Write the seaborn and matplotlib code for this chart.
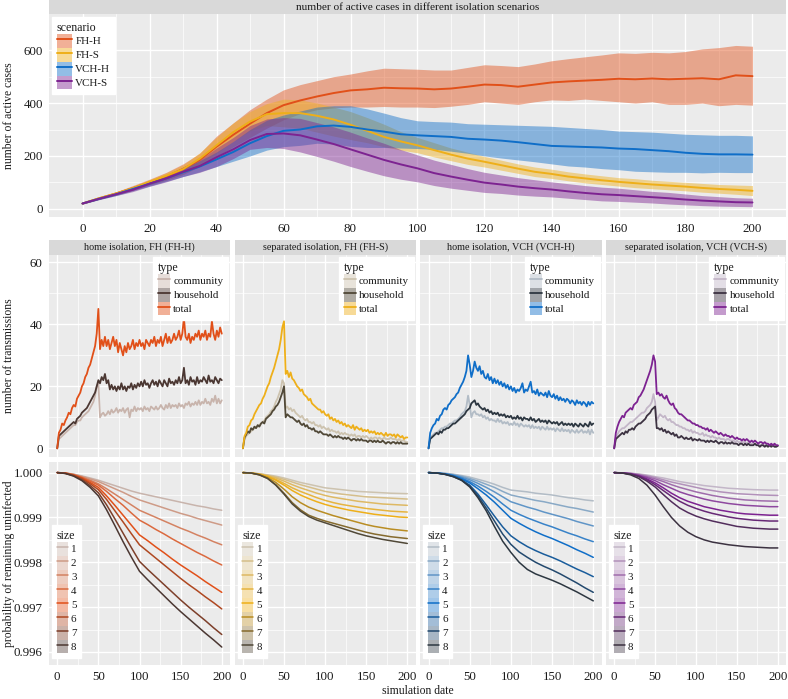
import matplotlib
matplotlib.use("Agg")
import numpy as np
import pandas as pd
import matplotlib.pyplot as plt
import seaborn as sns
from matplotlib.patches import Patch, Rectangle
from matplotlib.lines import Line2D
from matplotlib.ticker import FixedLocator
from matplotlib.colors import to_rgb, to_hex

# ---------------- data ----------------
scenarios = ["FH-H", "FH-S", "VCH-H", "VCH-S"]
panel_titles = ["home isolation, FH (FH-H)", "separated isolation, FH (FH-S)",
                "home isolation, VCH (VCH-H)", "separated isolation, VCH (VCH-S)"]
types = ["community", "household", "total"]
sizes = [1, 2, 3, 4, 5, 6, 7, 8]

days5 = list(range(0, 201, 5))
days2 = list(range(0, 201, 2))
days10 = list(range(0, 201, 10))

# active cases (mean, lower, upper), every 5 days
fhh_mean = [20,40,58,78,100,122,150,185,235,280,322,362,392,410,425,438,448,452,458,456,455,452,455,462,470,468,462,470,478,482,485,488,492,490,493,490,492,494,490,505,502]
fhh_lo = [18,36,52,70,90,108,130,160,197,235,270,305,337,360,375,382,385,385,387,385,385,383,388,395,405,400,395,405,412,410,415,410,405,400,405,395,395,400,390,395,392]
fhh_hi = [22,44,64,88,112,138,170,210,275,325,375,415,450,470,485,500,510,522,532,530,528,525,525,535,545,542,538,548,560,568,575,582,590,588,592,590,595,605,610,618,615]
fhs_mean = [20,40,58,78,102,125,150,190,240,290,330,358,362,362,352,338,318,295,272,255,240,222,205,190,178,165,152,140,132,122,115,108,102,97,92,88,84,79,75,72,68]
fhs_lo = [18,37,54,72,94,114,136,170,210,255,295,315,310,305,290,275,262,250,235,222,212,196,182,168,158,146,134,122,115,106,98,92,86,80,76,72,68,63,59,55,50]
fhs_hi = [22,43,62,84,110,136,166,212,270,325,368,398,415,412,400,385,368,345,320,292,270,250,230,214,198,184,170,158,150,140,132,125,118,114,108,104,100,96,92,90,88]
vchh_mean = [20,38,55,75,95,115,138,160,187,215,248,275,295,300,312,315,310,300,292,282,278,275,272,265,262,258,252,245,238,236,234,232,228,226,222,218,212,208,206,206,205]
vchh_lo = [18,35,50,68,86,104,122,140,160,180,200,222,235,240,248,245,236,232,232,230,228,225,218,210,200,192,185,178,170,162,158,152,148,142,140,138,138,136,138,137,137]
vchh_hi = [22,41,60,82,104,128,154,182,215,255,300,335,355,370,385,390,390,378,362,345,333,330,328,322,320,318,316,314,312,308,304,300,294,292,290,286,282,280,278,278,276]
vchs_mean = [20,38,55,72,95,115,140,162,195,225,260,283,285,278,262,245,225,205,185,168,153,135,122,110,99,92,84,78,73,66,60,55,52,48,44,40,35,31,28,25,24]
vchs_lo = [18,35,50,65,85,102,122,138,160,190,225,232,228,215,198,180,160,142,125,112,102,88,78,70,62,58,52,48,45,40,35,30,28,25,22,18,15,12,10,9,8]
vchs_hi = [22,41,60,80,105,128,158,186,230,270,315,340,345,342,326,310,290,268,248,224,204,184,168,152,138,128,118,110,102,95,88,82,78,72,66,62,56,50,46,42,40]

# transmissions per day, every 2 days
fhh_total = [0,5,6,8,7.5,9,10,11.5,11,13, 14,13.5,16,17,18,20,21,23,24,26, 27,29,31,33,37,45,32,35,33,36,
             33,35,32,34,36,33,35,31,34,32, 30,33,31,34,32,33,35,32,34,33, 35,33,34,32,35,34,33,35,34,36,
             33,35,34,36,33,35,37,34,36,34, 35,37,35,36,38,35,37,42,36,35, 37,34,36,35,37,36,38,35,37,36,
             38,35,37,36,41,37,35,38,36,39, 37]
fhh_household = [0,4,4.5,5,5.5,6,6.5,7,7.5,8, 8.5,8,9.5,10,10.5,11.5,12,12.5,13,14, 15,16,17,18,20,22,21,23,22,24,
                 21,22,19,20.5,19,20,18.5,20,19,21, 19,20,18.5,20,19.5,21,19,20.5,19.5,21, 20,21.5,20,22,20.5,21,19.5,21,22,20.5,
                 21.5,20,22,21,20,22,21,20,22.5,21, 21.5,20.5,22,21,23,21,22,26,21,22, 20.5,23,21.5,22,20.5,23,21,22,21.5,23,
                 22,21,23.5,21.5,22,21,23,22,21,22.5, 22]
fhh_community = [0,3,3.5,4,4.5,5,5.5,6,6.5,7, 7.5,7.5,8.5,9,9,10,10.5,11,11.5,12, 13,14,15,17,20,21,10,11,11.5,10.5,
                 11,12,11,12.5,11.5,12,13,11.5,12.5,12, 13,11.5,12.5,13,10,12.5,12,13.5,12,13, 12.5,13,12,13.5,12.5,13,12,13.5,13,12.5,
                 13.5,12.5,13,14,13,12.5,14,13,14.5,13, 14,13.5,14,13,14.5,13.5,14,13,14.5,14, 15,13.5,14.5,14,15,14,15.5,14,15,14.5,
                 16,14.5,15,14,16,15,17,14.5,16,14.5, 15.5]
fhs_total = [0,4,5,7,7.5,9,9.5,11,12,13, 14,14.5,16,17,18.5,20,21,23,24.5,26, 28,30,32,35,39,41,24,25,23,24.5,
             22.5,22,21,20,19.5,18.5,19,17.5,17,16.5, 15.5,16,14.5,14,13.5,13,12.5,12.5,11.5,12, 11,10.5,11,9.5,10,9,9.5,8.5,9,8,
             8.5,7.5,8,7,7.5,7,6.5,7.5,6,7, 6.5,6,6.5,5.5,6,5.5,6,5,5.5,5, 5.5,4.5,5,4.5,5,4.5,4,5,4,4.5,
             4.5,4,4.5,3.5,4.5,4,3.5,4,3,3.5, 3.5]
fhs_household = [0,3.5,4.5,5.5,5,6.5,6,7,6.5,7.5, 7,8,8.5,8,9.5,10,10.5,11,12,12.5, 13.5,14,15,16.5,18,20,10,11,10.5,10,
                 10,9.5,9,8.5,9,8,7.5,8,7,7.5, 6.5,6.5,6,6.5,5.5,5.5,5,5.5,5,4.5, 4.5,4.5,4,4.5,4,3.5,4,3.5,4,3.5,
                 3.5,3,3.5,3,3.5,3,2.5,3,3,2.5, 3,2.5,3,2.5,2.5,2.5,2,2.5,2.5,2, 2.5,2,2.5,2,2,2.5,2,1.5,2,2,
                 1.5,2,2,1.5,2,1.5,2,1.5,1.5,1.5, 1.5]
fhs_community = [0,3,4,4.5,5,5.5,6,6.5,7,7, 7.5,8,8.5,9,10,10.5,11,12,12.5,13.5, 15,16,17.5,19,22,21,13,13.5,12.5,13,
                 12,12.5,11.5,11,10.5,10,10.5,9.5,9,9.5, 8.5,8.5,8,8.5,7.5,7.5,7,7.5,6.5,7, 6.5,6,6.5,5.5,6,5.5,5.5,5,5.5,4.5,
                 5,4.5,5,4.5,4.5,4,4.5,4,4.5,3.5, 4,4,3.5,4,3.5,4,3.5,3,3.5,3, 3.5,3.5,3,3.5,3,3,3.5,3,3,3,
                 3.5,3,3,3,2.5,3,2.5,2.5,2.5,2, 2]
vchh_total = [0,5,6.5,7.5,8,9.5,9,10.5,11,12.5, 13,12.5,14,14.5,15.5,16,16.5,17.5,18,19.5, 20.5,21.5,23,25,30,27,23,25,28,26,
              25,26.5,24,25,23,22.5,24,22,23,21, 22.5,21,22,20.5,21.5,20,21,19.5,20.5,19, 20,18.5,19.5,18,19,18.5,19.5,21,18,19,
              18.5,20,21.5,18,18.5,17.5,19,17,18,17.5, 17,18,16.5,18.5,17,16.5,17.5,16,17,15.5, 16.5,15.5,16,15,16,15.5,14.5,15.5,15,14,
              15.5,14.5,15,14,15,14.5,13.5,15,14,15, 14.5]
vchh_household = [0,3,3.5,4,4.5,5,4.5,5.5,5,6, 6,6.5,6.5,7,7.5,8,8,8.5,9,9.5, 10,10.5,11,12,12.5,13,14.5,15,15.5,14,
                  14.5,13.5,13,12.5,13,12,12.5,11.5,12,11, 11.5,11,11.5,10.5,11,10.5,11,10,10.5,10, 10.5,9.5,10,9.5,10.5,9.5,10,9,10,9.5,
                  9.5,9,10,9,9.5,8.5,9,9.5,8.5,9, 8.5,9,8,9,8.5,8,8.5,8,8.5,7.5, 8,8.5,7.5,8,7.5,8,7.5,8,7,8,
                  7.5,7,8,7.5,7,8,7.5,7,8.5,7.5, 8]
vchh_community = [0,3.5,4,4.5,5,5,5.5,6,6.5,6.5, 7,7,7.5,8,8,8.5,9,9,9.5,10, 11,11.5,12,13.5,17,14,10,11.5,12,11,
                  11,10.5,11,10,10.5,9.5,10,9,9.5,9, 9,8.5,9.5,8.5,9,8,8.5,8,8.5,7.5, 8,7.5,8.5,7.5,8,7,8,7.5,7,7.5,
                  7,7.5,6.5,7.5,6.5,7,6.5,7,6,7, 6.5,6,7,6,6.5,6,6.5,5.5,6.5,6, 5.5,6.5,5.5,6,5.5,6,5,6,5.5,5,
                  6,5,5.5,6,5,5.5,5,6,4.5,6, 5]
vchs_total = [0,5,7,8.5,9.5,10.5,10,11.5,12,12.5, 13,12.5,14,14.5,15,16.5,17,18,19,20.5, 22,23.5,25,27,30,28,17.5,18,17,17.5,
              16.5,16,17,15.5,14.5,14,14.5,13,12.5,11.5, 11,11,10.5,10,9.5,9,9,8.5,8,8, 7.5,7.5,7,7,6.5,6.5,6,6.5,5.5,6,
              5.5,5,5.5,5,4.5,5,4.5,4,4.5,4, 4,3.5,4,3.5,3,3.5,3,3,2.5,3, 2.5,3,2.5,2,2.5,2,2.5,2,1.5,2,
              2,1.5,2,1.5,1.5,1,1.5,1,1.5,1, 1]
vchs_household = [0,3,3.5,4,4.5,5,4.5,5.5,5,6, 6,6.5,6,7,7.5,8,8,8.5,9,9.5, 10.5,11,11.5,12.5,13,13.5,6.5,6.5,6,6.5,
                  5.5,6,5,5.5,5,4.5,5,4,4.5,3.5, 3.5,4,3.5,3,3.5,3,3,3.5,2.5,3, 2.8,2.5,3,2.5,2.5,2.5,2,2.5,2,2.5,
                  2.2,2,2.5,2,1.5,2,2,1.5,2,1.5, 1.8,1.5,2,1.5,1.5,1.5,1,1.5,1.5,1, 1.5,1,1.5,1,1,1,1.5,1,1,0.5,
                  1,1,0.5,1,0.5,1,0.5,1,0.5,0.5, 0.8]
vchs_community = [0,3.5,4.5,5.5,6,6.5,6.5,7,7.5,8, 8.5,8.5,9,9.5,10,10.5,11,11.5,11.5,12, 13,13.5,14,15,17.5,15,9,10,11,10.5,
                  10,10.5,9.5,9,9.5,8.5,8.5,8,7.5,7.5, 7,7,6.5,6.5,6,6,5.5,6,5,5.5, 5,5,4.5,4.5,5,4,4.5,4,4,3.5,
                  4,3.5,3.5,3,3.5,3,3,3,2.5,3, 3,2.5,2.5,2.5,2,2.5,2,2,2,2, 2,1.5,2,1.5,1.5,1.5,1.5,1,1.5,1,
                  1,1,1,1,1,0.8,1,0.8,0.8,0.8, 0.8]

# probability of remaining uninfected, stored as deficit (1 - p) in units of 1e-4, every 10 days, sizes 1..8
fhh_deficit_e4 = [
    [0,0.1,0.35,0.75,1.2,1.7,2.3,2.9,3.5,4.1,4.6,5.0,5.4,5.8,6.2,6.6,7.0,7.4,7.7,8.1,8.4],
    [0,0.1,0.4,0.85,1.4,2.0,2.8,3.6,4.4,5.3,6.1,6.7,7.3,7.9,8.5,9.1,9.6,10.2,10.7,11.2,11.7],
    [0,0.1,0.45,1.0,1.7,2.5,3.6,4.8,6.0,7.2,8.4,9.2,10.0,10.8,11.6,12.4,13.1,13.9,14.6,15.4,16.1],
    [0,0.1,0.5,1.1,1.9,2.8,4.2,5.8,7.3,9.0,10.6,11.6,12.7,13.7,14.8,15.8,16.8,17.8,18.7,19.7,20.6],
    [0,0.15,0.55,1.2,2.2,3.3,5.2,7.3,9.5,11.7,13.9,15.2,16.6,17.9,19.3,20.6,21.8,23.0,24.3,25.5,26.7],
    [0,0.15,0.6,1.35,2.5,3.8,6.0,8.5,11.0,13.6,16.1,17.6,19.1,20.6,22.1,23.6,25.0,26.3,27.7,29.0,30.4],
    [0,0.2,0.7,1.6,2.9,4.5,7.2,10.3,13.5,16.7,19.8,21.6,23.3,25.0,26.7,28.4,30.0,31.5,33.0,34.6,36.1],
    [0,0.2,0.8,1.8,3.3,5.2,8.3,11.8,15.4,18.8,22.0,23.9,25.7,27.5,29.3,31.0,32.6,34.2,35.8,37.3,38.9]]
fhs_deficit_e4 = [
    [0,0.1,0.25,0.5,0.8,1.2,1.7,2.2,2.6,3.0,3.4,3.6,3.8,4.0,4.2,4.3,4.4,4.5,4.6,4.65,4.7],
    [0,0.1,0.3,0.6,1.0,1.5,2.1,2.7,3.2,3.7,4.2,4.5,4.8,5.0,5.2,5.4,5.5,5.6,5.7,5.8,5.9],
    [0,0.1,0.3,0.7,1.2,1.9,2.7,3.4,4.0,4.6,5.1,5.5,5.8,6.1,6.4,6.6,6.8,7.0,7.1,7.2,7.3],
    [0,0.1,0.35,0.8,1.5,2.4,3.4,4.2,4.9,5.6,6.2,6.7,7.1,7.4,7.7,8.0,8.2,8.4,8.6,8.7,8.8],
    [0,0.1,0.4,0.9,1.7,2.8,4.0,5.0,5.8,6.5,7.1,7.6,8.0,8.4,8.7,9.0,9.3,9.5,9.7,9.9,10.0],
    [0,0.1,0.45,1.1,2.2,3.7,5.4,6.7,7.7,8.4,9.0,9.6,10.1,10.6,11.1,11.6,12.0,12.3,12.6,12.8,13.0],
    [0,0.1,0.5,1.3,2.7,4.6,6.7,8.3,9.5,10.2,10.8,11.3,11.8,12.3,12.8,13.3,13.7,14.0,14.3,14.5,14.7],
    [0,0.1,0.5,1.3,2.8,4.8,7.0,8.6,9.8,10.6,11.2,11.8,12.4,13.0,13.6,14.1,14.5,14.9,15.2,15.5,15.8]]
vchh_deficit_e4 = [
    [0,0.05,0.15,0.35,0.65,1.0,1.5,2.0,2.6,3.3,3.9,4.1,4.3,4.6,4.8,5.0,5.3,5.6,5.8,6.1,6.3],
    [0,0.1,0.2,0.45,0.8,1.3,1.9,2.6,3.3,4.2,5.0,5.4,5.8,6.2,6.5,6.9,7.3,7.7,8.0,8.4,8.8],
    [0,0.1,0.25,0.55,1.0,1.6,2.4,3.3,4.3,5.4,6.5,7.1,7.7,8.2,8.8,9.3,9.8,10.3,10.9,11.4,11.9],
    [0,0.1,0.3,0.65,1.2,2.0,3.0,4.2,5.5,7.0,8.4,9.3,10.1,10.8,11.5,12.1,12.8,13.5,14.1,14.8,15.4],
    [0,0.1,0.3,0.7,1.4,2.3,3.6,5.0,6.6,8.4,10.2,11.3,12.3,13.2,14.0,14.7,15.5,16.3,17.2,18.0,18.9],
    [0,0.1,0.35,0.8,1.6,2.8,4.8,7.2,9.7,12.1,14.1,15.4,16.5,17.4,18.2,18.9,19.7,20.6,21.5,22.3,23.2],
    [0,0.1,0.4,0.9,1.7,3.0,5.2,7.9,10.8,13.7,16.0,17.7,18.9,20.0,20.9,21.7,22.6,23.6,24.6,25.7,26.7],
    [0,0.1,0.4,0.9,1.7,3.2,5.6,8.5,12.0,15.3,17.8,20.0,21.6,22.6,23.3,24.0,24.8,25.7,26.6,27.6,28.6]]
vchs_deficit_e4 = [
    [0,0.05,0.15,0.3,0.55,0.9,1.2,1.6,2.0,2.3,2.6,2.9,3.1,3.3,3.5,3.6,3.7,3.8,3.85,3.9,3.9],
    [0,0.05,0.15,0.4,0.7,1.1,1.6,2.1,2.5,2.9,3.3,3.7,4.0,4.3,4.5,4.7,4.8,4.9,5.0,5.05,5.1],
    [0,0.1,0.2,0.5,0.9,1.4,2.0,2.7,3.3,3.8,4.3,4.7,5.1,5.4,5.7,5.9,6.1,6.2,6.3,6.35,6.4],
    [0,0.1,0.25,0.6,1.1,1.8,2.7,3.5,4.3,4.9,5.4,5.9,6.3,6.6,6.9,7.1,7.3,7.4,7.5,7.6,7.6],
    [0,0.1,0.3,0.7,1.4,2.3,3.4,4.6,5.6,6.4,7.0,7.6,8.0,8.4,8.7,9.0,9.2,9.3,9.4,9.5,9.5],
    [0,0.1,0.3,0.8,1.6,2.7,4.0,5.3,6.4,7.3,8.0,8.6,9.1,9.5,9.9,10.2,10.4,10.6,10.7,10.8,10.8],
    [0,0.1,0.35,0.9,1.9,3.2,4.9,6.5,7.9,8.9,9.7,10.3,10.8,11.2,11.6,12.0,12.2,12.4,12.5,12.6,12.6],
    [0,0.1,0.5,1.3,2.8,5.0,7.6,10.0,11.9,13.3,14.3,15.0,15.5,15.8,16.1,16.3,16.5,16.6,16.7,16.8,16.8]]

# ---------------- style ----------------
base_col = {"FH-H": "#E15019", "FH-S": "#EEAF19", "VCH-H": "#0F6EC8", "VCH-S": "#7D2391"}
comm_col = {"FH-H": "#C8B4AC", "FH-S": "#CDC3AF", "VCH-H": "#B2BCC6", "VCH-S": "#C3B6C8"}
hh_col = {"FH-H": "#4B3732", "FH-S": "#504837", "VCH-H": "#2D3741", "VCH-S": "#3C3241"}

def size_palette(sc):
    light, base, dark = [np.array(to_rgb(c)) for c in (comm_col[sc], base_col[sc], hh_col[sc])]
    cols = {}
    for s in sizes:
        if s <= 5:
            f = (s - 1) / 4.0
            c = light * (1 - f) + base * f
        else:
            f = (s - 5) / 3.0
            c = base * (1 - f) + dark * f
        cols[s] = to_hex(c)
    return cols

sns.set_theme(style="darkgrid", rc={
    "axes.facecolor": "#EBEBEB", "grid.color": "white",
    "xtick.major.size": 3, "ytick.major.size": 3,
    "xtick.major.width": 0.6, "ytick.major.width": 0.6,
    "xtick.minor.size": 0, "ytick.minor.size": 0,
    "xtick.color": "#333333", "ytick.color": "#333333",
    "xtick.major.pad": 1.5, "ytick.major.pad": 1.5,
})
plt.rcParams["font.family"] = ["Liberation Serif", "DejaVu Serif"]
TXT = "#1A1A1A"
TICK_FS = 9.3

W, H = 788, 699
fig = plt.figure(figsize=(W / 100, H / 100), dpi=100)

def add_ax(x0, x1, y0, y1):
    return fig.add_axes([x0 / W, 1 - y1 / H, (x1 - x0) / W, (y1 - y0) / H])

def style_ax(ax, xmaj, xmin, ymaj, ymin):
    ax.xaxis.set_major_locator(FixedLocator(xmaj))
    ax.xaxis.set_minor_locator(FixedLocator(xmin))
    ax.yaxis.set_major_locator(FixedLocator(ymaj))
    ax.yaxis.set_minor_locator(FixedLocator(ymin))
    ax.grid(which="major", color="white", lw=1.0)
    ax.grid(which="minor", color="white", lw=0.5)
    ax.set_axisbelow(True)
    for s in ax.spines.values():
        s.set_visible(False)
    ax.tick_params(labelsize=TICK_FS, labelcolor=TXT)
    ax.set_xlabel("")
    ax.set_ylabel("")

def strip(ax, text, y0, y1, fs=7.3):
    pos = ax.get_position()
    rect = Rectangle((pos.x0, 1 - y1 / H), pos.width, (y1 - y0) / H, transform=fig.transFigure,
                     facecolor="#D9D9D9", edgecolor="none", zorder=0)
    fig.patches.append(rect)
    fig.text(pos.x0 + pos.width / 2, 1 - (y0 + y1) / 2 / H, text, ha="center", va="center",
             fontsize=fs, color=TXT)

LEG_FS = 7.9
def legend(ax, handles, labels, title, loc, anchor, hl):
    lg = ax.legend(handles, labels, title=title, loc=loc, bbox_to_anchor=anchor, borderaxespad=0,
                   frameon=True, fancybox=False, framealpha=1, facecolor="white", edgecolor="white",
                   fontsize=LEG_FS, title_fontsize=8.6, handlelength=hl, handleheight=1.58, labelspacing=0.0,
                   handletextpad=0.3, borderpad=0.42, alignment="left")
    for t in lg.get_texts():
        t.set_color(TXT)
    lg.get_title().set_color(TXT)
    return lg

# ---------------- top panel ----------------
ax_top = add_ax(49, 786, 14, 217)
series_top = {"FH-H": (fhh_mean, fhh_lo, fhh_hi), "FH-S": (fhs_mean, fhs_lo, fhs_hi),
              "VCH-H": (vchh_mean, vchh_lo, vchh_hi), "VCH-S": (vchs_mean, vchs_lo, vchs_hi)}
for sc in scenarios:
    m, lo, hi = series_top[sc]
    c = base_col[sc]
    ax_top.fill_between(days5, lo, hi, color=c, alpha=0.45, lw=0)
    df = pd.DataFrame({"day": days5, "cases": m})
    sns.lineplot(data=df, x="day", y="cases", color=c, lw=1.4, ax=ax_top, estimator=None)
ax_top.set_xlim(-10, 210)
ax_top.set_ylim(-31, 737)
style_ax(ax_top, list(range(0, 201, 20)), list(range(10, 200, 20)), [0, 200, 400, 600], [100, 300, 500])
strip(ax_top, "number of active cases in different isolation scenarios", 0, 14, fs=8.1)
h_top = [(Patch(facecolor=base_col[sc], alpha=0.45, edgecolor="none"), Line2D([], [], color=base_col[sc], lw=1.4))
         for sc in scenarios]
legend(ax_top, h_top, scenarios, "scenario", "upper left", (0.004, 0.985), 1.4)

# ---------------- middle & bottom panels ----------------
col_x = [(49, 230), (234.7, 415.5), (420.3, 601.5), (606, 786)]
trans = {"FH-H": (fhh_community, fhh_household, fhh_total),
         "FH-S": (fhs_community, fhs_household, fhs_total),
         "VCH-H": (vchh_community, vchh_household, vchh_total),
         "VCH-S": (vchs_community, vchs_household, vchs_total)}
deficits = {"FH-H": fhh_deficit_e4, "FH-S": fhs_deficit_e4, "VCH-H": vchh_deficit_e4, "VCH-S": vchs_deficit_e4}

for i, sc in enumerate(scenarios):
    x0, x1 = col_x[i]
    # transmissions
    ax = add_ax(x0, x1, 255, 457)
    comm, hh, tot = trans[sc]
    df = pd.DataFrame({"day": days2 * 3, "n": comm + hh + tot,
                       "type": ["community"] * len(days2) + ["household"] * len(days2) + ["total"] * len(days2)})
    pal = {"community": comm_col[sc], "household": hh_col[sc], "total": base_col[sc]}
    sns.lineplot(data=df, x="day", y="n", hue="type", hue_order=types, palette=pal, lw=1.3,
                 ax=ax, legend=False, estimator=None)
    ax.set_xlim(-10, 210)
    ax.set_ylim(-2.8, 62.4)
    style_ax(ax, [0, 50, 100, 150, 200], [25, 75, 125, 175], [0, 20, 40, 60], [10, 30, 50])
    ax.tick_params(axis="x", labelbottom=False)
    if i > 0:
        ax.tick_params(axis="y", labelleft=False, length=0)
    strip(ax, panel_titles[i], 240, 255)
    h_mid = [(Patch(facecolor=pal[t], alpha=0.45, edgecolor="none"), Line2D([], [], color=pal[t], lw=1.3))
             for t in types]
    legend(ax, h_mid, types, "type", "upper right", (0.989, 0.99), 1.1)

    # probability of remaining uninfected
    axb = add_ax(x0, x1, 462, 665)
    spal = size_palette(sc)
    rows = []
    for s, d in zip(sizes, deficits[sc]):
        for t, v in zip(days10, d):
            rows.append((t, 1 - v * 1e-4, s))
    dfb = pd.DataFrame(rows, columns=["day", "p", "size"])
    sns.lineplot(data=dfb, x="day", y="p", hue="size", hue_order=sizes, palette=spal, lw=1.1,
                 ax=axb, legend=False, estimator=None)
    axb.set_xlim(-10, 210)
    axb.set_ylim(0.99571, 1.000236)
    style_ax(axb, [0, 50, 100, 150, 200], [25, 75, 125, 175],
             [0.996, 0.997, 0.998, 0.999, 1.000], [0.9965, 0.9975, 0.9985, 0.9995])
    axb.set_xticklabels(["0", "50", "100", "150", "200"])
    if i == 0:
        axb.set_yticklabels(["0.996", "0.997", "0.998", "0.999", "1.000"])
    else:
        axb.tick_params(axis="y", labelleft=False, length=0)
    h_bot = [(Patch(facecolor=spal[s], alpha=0.4, edgecolor="none"), Line2D([], [], color=spal[s], lw=1.1))
             for s in sizes]
    legend(axb, h_bot, [str(s) for s in sizes], "size", "lower left", (0.017, 0.034), 1.0)

# axis titles
fig.text(9 / W, 1 - 115.5 / H, "number of active cases", rotation=90, ha="center", va="center", fontsize=8.4, color=TXT)
fig.text(9 / W, 1 - 356 / H, "number of transmissions", rotation=90, ha="center", va="center", fontsize=8.4, color=TXT)
fig.text(9 / W, 1 - 563.5 / H, "probability of remaining uninfected", rotation=90, ha="center", va="center", fontsize=8.4, color=TXT)
fig.text(417.5 / W, 1 - 691 / H, "simulation date", ha="center", va="center", fontsize=8.4, color=TXT)

fig.savefig("out.png", dpi=100, facecolor="white")
